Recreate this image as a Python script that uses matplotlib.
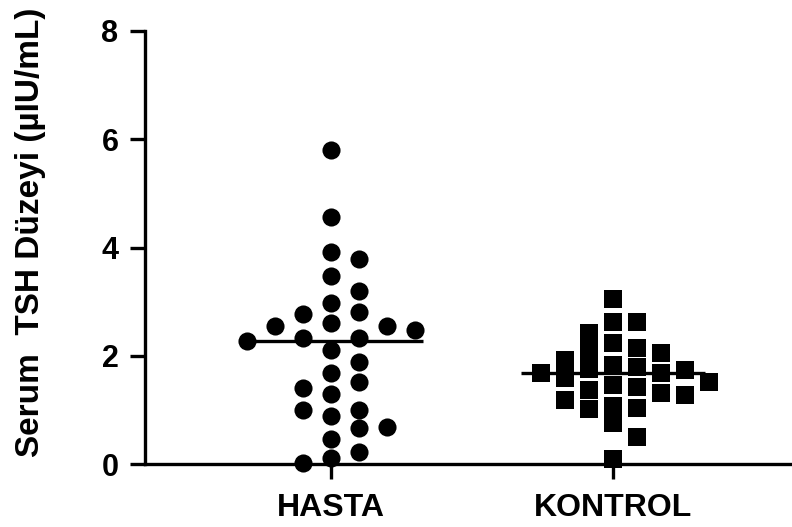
import matplotlib
matplotlib.use("Agg")
import matplotlib.pyplot as plt
import numpy as np

groups = ["HASTA", "KONTROL"]
hasta = [5.80, 4.57, 3.91, 3.79, 3.47, 3.19, 2.97, 2.80, 2.77, 2.60, 2.55,
         2.55, 2.48, 2.32, 2.32, 2.28, 2.11, 1.89, 1.68, 1.52, 1.40, 1.29,
         1.00, 0.99, 0.89, 0.69, 0.66, 0.46, 0.22, 0.11, 0.02]
kontrol = [3.05, 2.62, 2.63, 2.42, 2.23, 2.14, 2.08, 2.05, 1.92, 1.83, 1.80,
           1.75, 1.74, 1.68, 1.68, 1.58, 1.52, 1.46, 1.43, 1.37, 1.31, 1.28,
           1.18, 1.07, 1.03, 1.01, 0.75, 0.50, 0.10]
yticks = [0, 2, 4, 6, 8]


def swarm(values, gap):
    # greedy column placement: a point takes the nearest free column
    # (0, +1, -1, +2, -2 ...) where it does not touch a point already there
    placed = []
    offsets = np.zeros(len(values))
    order = np.argsort(values)[::-1]
    for i in order:
        v = values[i]
        k = 0
        while True:
            col = (k + 1) // 2 * (1 if k % 2 else -1)
            if all(c != col or abs(v - pv) >= gap for c, pv in placed):
                break
            k += 1
        placed.append((col, v))
        offsets[i] = col
    return offsets


plt.rcParams["font.family"] = ["Liberation Sans", "DejaVu Sans"]
plt.rcParams["font.weight"] = "bold"

fig = plt.figure(figsize=(7.92, 5.27), dpi=100)
ax = fig.add_axes([0.183, 0.1195, 0.817, 0.8217])

series = [(hasta, "o", 170, 0.0993, 0.333), (kontrol, "s", 150, 0.085, 0.314)]
for i, (vals, mk, size, step, gap) in enumerate(series):
    vals = np.array(vals)
    xs = i + swarm(vals, gap) * step
    ax.scatter(xs, vals, s=size, marker=mk, color="black", linewidths=0,
               zorder=3, clip_on=False)
    ax.plot([i - 0.325, i + 0.325], [np.median(vals)] * 2, color="black",
            lw=2.4, zorder=4, solid_capstyle="butt")

ax.set_xlim(-0.66, 1.635)
ax.set_ylim(0, 8)
ax.set_xticks(range(len(groups)))
ax.set_xticklabels(groups, fontsize=23, fontweight="bold")
ax.set_yticks(yticks)
ax.set_yticklabels([str(t) for t in yticks], fontsize=22, fontweight="bold")
ax.set_ylabel("Serum  TSH Düzeyi (µIU/mL)", fontsize=24, fontweight="bold")
ax.yaxis.set_label_coords(-0.153, 0.536)

for side in ["top", "right"]:
    ax.spines[side].set_visible(False)
for side in ["left", "bottom"]:
    ax.spines[side].set_linewidth(2.4)
ax.tick_params(axis="both", width=2.4, length=11, color="black")
ax.tick_params(axis="x", pad=10)
ax.tick_params(axis="y", pad=8)

fig.savefig("out.png", dpi=100)
